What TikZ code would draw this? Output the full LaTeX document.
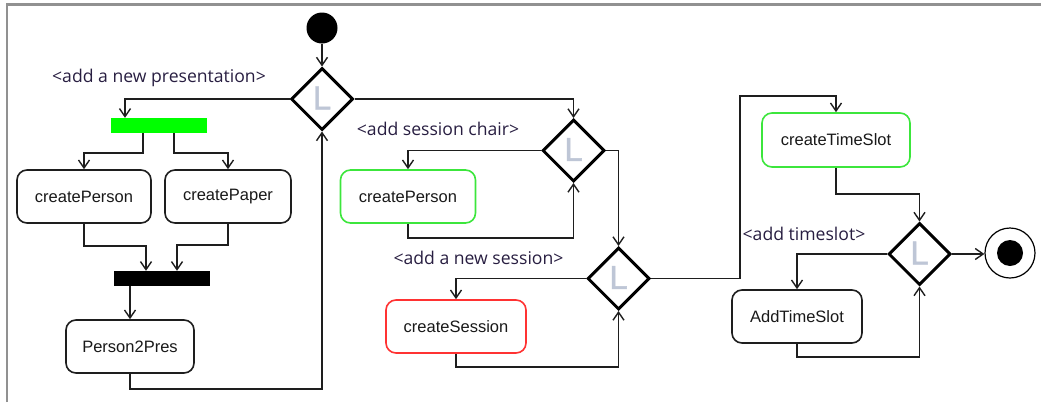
\documentclass[tikz,border=0pt]{standalone}
\usepackage{fontspec}
\setmainfont{Liberation Sans}
\newfontfamily\guardfont{Open Sans}
\newfontfamily\markfont[FakeBold=1.2]{Liberation Sans}
\usetikzlibrary{shapes.geometric,arrows.meta,calc}

\definecolor{actgreen}{RGB}{60,230,60}
\definecolor{actred}{RGB}{255,50,50}
\definecolor{guardtext}{RGB}{40,30,65}
\definecolor{lgray}{RGB}{190,198,214}
\definecolor{framegray}{RGB}{145,145,145}
\definecolor{wire}{RGB}{30,30,30}
\definecolor{barfill}{RGB}{0,255,0}

\begin{document}
\begin{tikzpicture}[x=1pt,y=-1pt,
  conn/.style={line width=1.6pt, draw=wire,
    -{Straight Barb[length=8pt,width=11pt,line width=1.4pt]}},
  action/.style={rectangle, draw=wire, line width=1.6pt, rounded corners=10pt,
    minimum height=53pt, inner sep=0pt, fill=white,
    font=\fontsize{16.5}{18}\selectfont, text=black!90},
  decision/.style={diamond, draw=black, line width=3pt, aspect=1,
    minimum width=62pt, minimum height=62pt, inner sep=0pt, fill=white},
  lmark/.style={inner sep=0pt, text=lgray, font=\markfont\fontsize{33}{33}\selectfont},
  syncbar/.style={rectangle, minimum width=96pt, minimum height=15pt, inner sep=0pt},
  guard/.style={inner sep=0pt, text=guardtext, font=\guardfont\fontsize{17.6}{19}\selectfont},
  frameline/.style={draw=framegray, line width=2.2pt}
]
\useasboundingbox (0,0) rectangle (1041,402);

% window frame
\draw[frameline] (7,402) -- (7,4.5) -- (1041,4.5);

% start and end
\node[circle, fill=black, minimum size=31pt, inner sep=0pt] (start) at (322,28) {};
\node[circle, draw=black, line width=1.2pt, minimum size=50pt, inner sep=0pt, fill=white] (final) at (1010,253) {};
\node[circle, fill=black, minimum size=26pt, inner sep=0pt] (finaldot) at (final) {};

% decisions
\node[decision] (d1) at (322,99) {};
\node[decision] (d2) at (573.5,150.5) {};
\node[decision] (d3) at (618.5,278.5) {};
\node[decision] (d4) at (919.5,254) {};
\node[lmark] (l1) at ([yshift=1pt]d1) {L};
\node[lmark] (l2) at ([yshift=1pt]d2) {L};
\node[lmark] (l3) at ([yshift=1pt]d3) {L};
\node[lmark] (l4) at ([yshift=1pt]d4) {L};

% fork and join bars
\node[syncbar, fill=barfill] (gbar) at (159,125.5) {};
\node[syncbar, fill=black] (bbar) at (162,278.5) {};

% actions
\node[action, minimum width=134pt] (cp1) at (84,196.5) {createPerson};
\node[action, minimum width=126pt] (cpa) at (228,196.5) {createPaper};
\node[action, minimum width=128pt] (p2p) at (130,346.5) {Person2Pres};
\node[action, minimum width=135pt, draw=actgreen] (cp2) at (408,196.5) {createPerson};
\node[action, minimum width=140pt, draw=actred] (cs) at (456,326.5) {createSession};
\node[action, minimum width=148pt, minimum height=54pt, draw=actgreen] (cts) at (836,140) {createTimeSlot};
\node[action, minimum width=130pt] (ats) at (797,316.5) {AddTimeSlot};

% guards
\node[guard] (g1) at (159,78) {<add a new presentation>};
\node[guard] (g2) at (438,129) {<add session chair>};
\node[guard] (g3) at (478.5,258) {<add a new session>};
\node[guard] (g4) at (804,234) {<add timeslot>};

% flows
\draw[conn] (start) -- (d1.north);
\draw[conn] (d1.west) -| ([xshift=-34pt]gbar.north);
\draw[conn] ([xshift=-16pt]gbar.south) -- ++(0,20) -| (cp1.north);
\draw[conn] ([xshift=15pt]gbar.south) -- ++(0,20) -| (cpa.north);
\draw[conn] (cp1.south) -- ++(0,22) -| ([xshift=-16pt]bbar.north);
\draw[conn] (cpa.south) -- ++(0,21) -| ([xshift=15pt]bbar.north);
\draw[conn] (bbar.south -| p2p.north) -- (p2p.north);
\draw[conn] (p2p.south) -- ++(0,15) -| (d1.south);
\draw[conn] (d1.east) -| (d2.north);
\draw[conn] (d2.west) -| (cp2.north);
\draw[conn] (cp2.south) -- ++(0,14) -| (d2.south);
\draw[conn] (d2.east) -| (d3.north);
\draw[conn] (d3.west) -| (cs.north);
\draw[conn] (cs.south) -- ++(0,13) -| (d3.south);
\coordinate (bend) at (740,96);
\draw[conn] (d3.east) -| (bend) -| (cts.north);
\draw[conn] (cts.south) -- ++(0,26) -| (d4.north);
\draw[conn] (d4.west) -| (ats.north);
\draw[conn] (ats.south) -- ++(0,13) -| (d4.south);
\draw[conn] (d4.east) -- (d4.east -| final.west);
\end{tikzpicture}
\end{document}
